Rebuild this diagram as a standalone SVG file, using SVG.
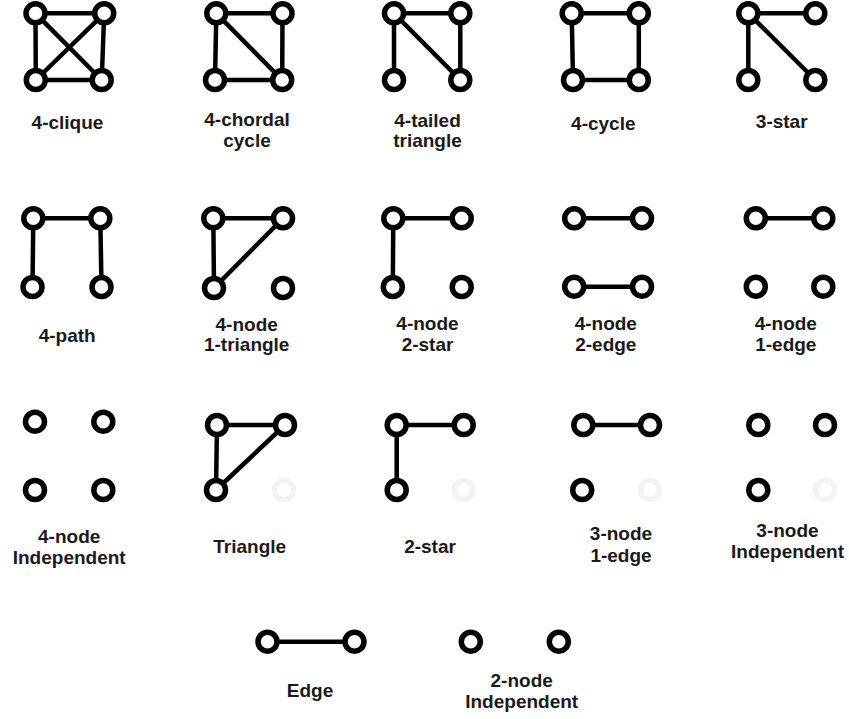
<svg xmlns="http://www.w3.org/2000/svg" width="849" height="719" viewBox="0 0 849 719">
<style>
.e{stroke:#000;stroke-width:4.5;fill:none}
.n{fill:#fff;stroke:#000;stroke-width:5.5}
.f{fill:#fff;stroke:#f3f3f3;stroke-width:5.5}
text{font-family:"Liberation Sans",Arial,sans-serif;font-weight:bold;font-size:19px;fill:#1a1a1a;text-anchor:middle}
</style>
<rect width="849" height="719" fill="#fff"/>
<g id="connectors">
<!-- 4-clique -->
<path class="e" d="M35.5,13.3H104.2M35.5,13.3L35.8,80M35.8,80H101.7M104.2,13.3L101.7,80M35.5,13.3L101.7,80M104.2,13.3L35.8,80"/>
<!-- 4-chordal cycle -->
<path class="e" d="M216.3,13.3H282.5M216.3,13.3L215,80M215,80H282.2M282.5,13.3L282.2,80M216.3,13.3L282.2,80"/>
<!-- 4-tailed triangle -->
<path class="e" d="M394,13.3H460.3M394,13.3V80M394,13.3L460.3,80M460.3,13.3V80"/>
<!-- 4-cycle -->
<path class="e" d="M571.7,13.3H638.8M571.7,13.3L573,80M573,80H638.8M638.8,13.3V80"/>
<!-- 3-star -->
<path class="e" d="M748.3,13.3H815.3M748.3,13.3V80M748.3,13.3L815.3,80"/>
<!-- 4-path -->
<path class="e" d="M33.3,218.3H100.3M33.3,218.3L32.5,287M100.3,218.3L101.5,287"/>
<!-- 4-node 1-triangle -->
<path class="e" d="M213.3,218.3H283M213.3,218.3L214,288M283,218.3L214,288"/>
<!-- 4-node 2-star -->
<path class="e" d="M393.3,218.3H461.7M393.3,218.3L392.8,287"/>
<!-- 4-node 2-edge -->
<path class="e" d="M574.2,218.3H642M574.2,286.7H642"/>
<!-- 4-node 1-edge -->
<path class="e" d="M755.8,218.3H823.3"/>
<!-- Triangle -->
<path class="e" d="M217,425H285M217,425L216,490M285,425L216,490"/>
<!-- 2-star -->
<path class="e" d="M396.7,425H463.7M396.7,425V490"/>
<!-- 3-node 1-edge -->
<path class="e" d="M583.3,425H650"/>
<!-- Edge -->
<path class="e" d="M267.5,641.7H354.5"/>
</g>
<g id="g-4clique">
<g id="c4-a"><circle class="n" cx="35.5" cy="13.3" r="9.5"/></g>
<g id="c4-b"><circle class="n" cx="104.2" cy="13.3" r="9.5"/></g>
<g id="c4-c"><circle class="n" cx="35.8" cy="80" r="9.5"/></g>
<g id="c4-d"><circle class="n" cx="101.7" cy="80" r="9.5"/></g>
<text x="67.5" y="129.3">4-clique</text>
</g>
<g id="g-chordal">
<g id="ch-a"><circle class="n" cx="216.3" cy="13.3" r="9.5"/></g>
<g id="ch-b"><circle class="n" cx="282.5" cy="13.3" r="9.5"/></g>
<g id="ch-c"><circle class="n" cx="215" cy="80" r="9.5"/></g>
<g id="ch-d"><circle class="n" cx="282.2" cy="80" r="9.5"/></g>
<text x="247" y="126">4-chordal<tspan x="247" dy="20.7">cycle</tspan></text>
</g>
<g id="g-tailed">
<g id="tt-a"><circle class="n" cx="394" cy="13.3" r="9.5"/></g>
<g id="tt-b"><circle class="n" cx="460.3" cy="13.3" r="9.5"/></g>
<g id="tt-c"><circle class="n" cx="394" cy="80" r="9.5"/></g>
<g id="tt-d"><circle class="n" cx="460.3" cy="80" r="9.5"/></g>
<text x="427.5" y="126.7">4-tailed<tspan x="427.5" dy="20.7">triangle</tspan></text>
</g>
<g id="g-cycle">
<g id="cy-a"><circle class="n" cx="571.7" cy="13.3" r="9.5"/></g>
<g id="cy-b"><circle class="n" cx="638.8" cy="13.3" r="9.5"/></g>
<g id="cy-c"><circle class="n" cx="573" cy="80" r="9.5"/></g>
<g id="cy-d"><circle class="n" cx="638.8" cy="80" r="9.5"/></g>
<text x="603.3" y="130">4-cycle</text>
</g>
<g id="g-3star">
<g id="s3-a"><circle class="n" cx="748.3" cy="13.3" r="9.5"/></g>
<g id="s3-b"><circle class="n" cx="815.3" cy="13.3" r="9.5"/></g>
<g id="s3-c"><circle class="n" cx="748.3" cy="80" r="9.5"/></g>
<g id="s3-d"><circle class="n" cx="815.3" cy="80" r="9.5"/></g>
<text x="781.7" y="128.3">3-star</text>
</g>
<g id="g-4path">
<g id="p4-a"><circle class="n" cx="33.3" cy="218.3" r="9.5"/></g>
<g id="p4-b"><circle class="n" cx="100.3" cy="218.3" r="9.5"/></g>
<g id="p4-c"><circle class="n" cx="32.5" cy="287" r="9.5"/></g>
<g id="p4-d"><circle class="n" cx="101.5" cy="287" r="9.5"/></g>
<text x="67.2" y="341.7">4-path</text>
</g>
<g id="g-1tri">
<g id="t1-a"><circle class="n" cx="213.3" cy="218.3" r="9.5"/></g>
<g id="t1-b"><circle class="n" cx="283" cy="218.3" r="9.5"/></g>
<g id="t1-c"><circle class="n" cx="214" cy="288" r="9.5"/></g>
<g id="t1-d"><circle class="n" cx="283" cy="288" r="9.5"/></g>
<text x="246.7" y="330.5">4-node<tspan x="246.7" dy="20.7">1-triangle</tspan></text>
</g>
<g id="g-4n2star">
<g id="n2s-a"><circle class="n" cx="393.3" cy="218.3" r="9.5"/></g>
<g id="n2s-b"><circle class="n" cx="461.7" cy="218.3" r="9.5"/></g>
<g id="n2s-c"><circle class="n" cx="392.8" cy="287" r="9.5"/></g>
<g id="n2s-d"><circle class="n" cx="461.7" cy="287" r="9.5"/></g>
<text x="427.5" y="330">4-node<tspan x="427.5" dy="20.7">2-star</tspan></text>
</g>
<g id="g-2edge">
<g id="e2-a"><circle class="n" cx="574.2" cy="218.3" r="9.5"/></g>
<g id="e2-b"><circle class="n" cx="642" cy="218.3" r="9.5"/></g>
<g id="e2-c"><circle class="n" cx="574.2" cy="286.7" r="9.5"/></g>
<g id="e2-d"><circle class="n" cx="642" cy="286.7" r="9.5"/></g>
<text x="605.8" y="330">4-node<tspan x="605.8" dy="20.7">2-edge</tspan></text>
</g>
<g id="g-1edge">
<g id="e1-a"><circle class="n" cx="755.8" cy="218.3" r="9.5"/></g>
<g id="e1-b"><circle class="n" cx="823.3" cy="218.3" r="9.5"/></g>
<g id="e1-c"><circle class="n" cx="755.8" cy="286.7" r="9.5"/></g>
<g id="e1-d"><circle class="n" cx="823.3" cy="286.7" r="9.5"/></g>
<text x="785.8" y="330">4-node<tspan x="785.8" dy="20.7">1-edge</tspan></text>
</g>
<g id="g-4indep">
<g id="i4-a"><circle class="n" cx="35" cy="421.7" r="9.5"/></g>
<g id="i4-b"><circle class="n" cx="103.3" cy="421.7" r="9.5"/></g>
<g id="i4-c"><circle class="n" cx="35" cy="490" r="9.5"/></g>
<g id="i4-d"><circle class="n" cx="103.3" cy="490" r="9.5"/></g>
<text x="69.2" y="543">4-node<tspan x="69.2" dy="21">Independent</tspan></text>
</g>
<g id="g-triangle">
<g id="tr-a"><circle class="n" cx="217" cy="425" r="9.5"/></g>
<g id="tr-b"><circle class="n" cx="285" cy="425" r="9.5"/></g>
<g id="tr-c"><circle class="n" cx="216" cy="490" r="9.5"/></g>
<g id="tr-d"><circle class="f" cx="284" cy="490" r="9.5"/></g>
<text x="249.7" y="553.3">Triangle</text>
</g>
<g id="g-2star">
<g id="s2-a"><circle class="n" cx="396.7" cy="425" r="9.5"/></g>
<g id="s2-b"><circle class="n" cx="463.7" cy="425" r="9.5"/></g>
<g id="s2-c"><circle class="n" cx="396.7" cy="490" r="9.5"/></g>
<g id="s2-d"><circle class="f" cx="463.5" cy="490" r="9.5"/></g>
<text x="430" y="553.3">2-star</text>
</g>
<g id="g-3n1e">
<g id="n31-a"><circle class="n" cx="583.3" cy="425" r="9.5"/></g>
<g id="n31-b"><circle class="n" cx="650" cy="425" r="9.5"/></g>
<g id="n31-c"><circle class="n" cx="582.2" cy="490" r="9.5"/></g>
<g id="n31-d"><circle class="f" cx="650" cy="490" r="9.5"/></g>
<text x="621" y="540">3-node<tspan x="621" dy="22">1-edge</tspan></text>
</g>
<g id="g-3indep">
<g id="i3-a"><circle class="n" cx="758.3" cy="425" r="9.5"/></g>
<g id="i3-b"><circle class="n" cx="825" cy="425" r="9.5"/></g>
<g id="i3-c"><circle class="n" cx="758.3" cy="490" r="9.5"/></g>
<g id="i3-d"><circle class="f" cx="825" cy="490" r="9.5"/></g>
<text x="787.5" y="537.3">3-node<tspan x="787.5" dy="21">Independent</tspan></text>
</g>
<g id="g-edge">
<g id="ed-a"><circle class="n" cx="267.5" cy="641.7" r="9.5"/></g>
<g id="ed-b"><circle class="n" cx="354.5" cy="641.7" r="9.5"/></g>
<text x="310" y="696.7">Edge</text>
</g>
<g id="g-2indep">
<g id="i2-a"><circle class="n" cx="470.8" cy="641.7" r="9.5"/></g>
<g id="i2-b"><circle class="n" cx="558.8" cy="641.7" r="9.5"/></g>
<text x="521.7" y="687.3">2-node<tspan x="521.7" dy="21">Independent</tspan></text>
</g>
</svg>
